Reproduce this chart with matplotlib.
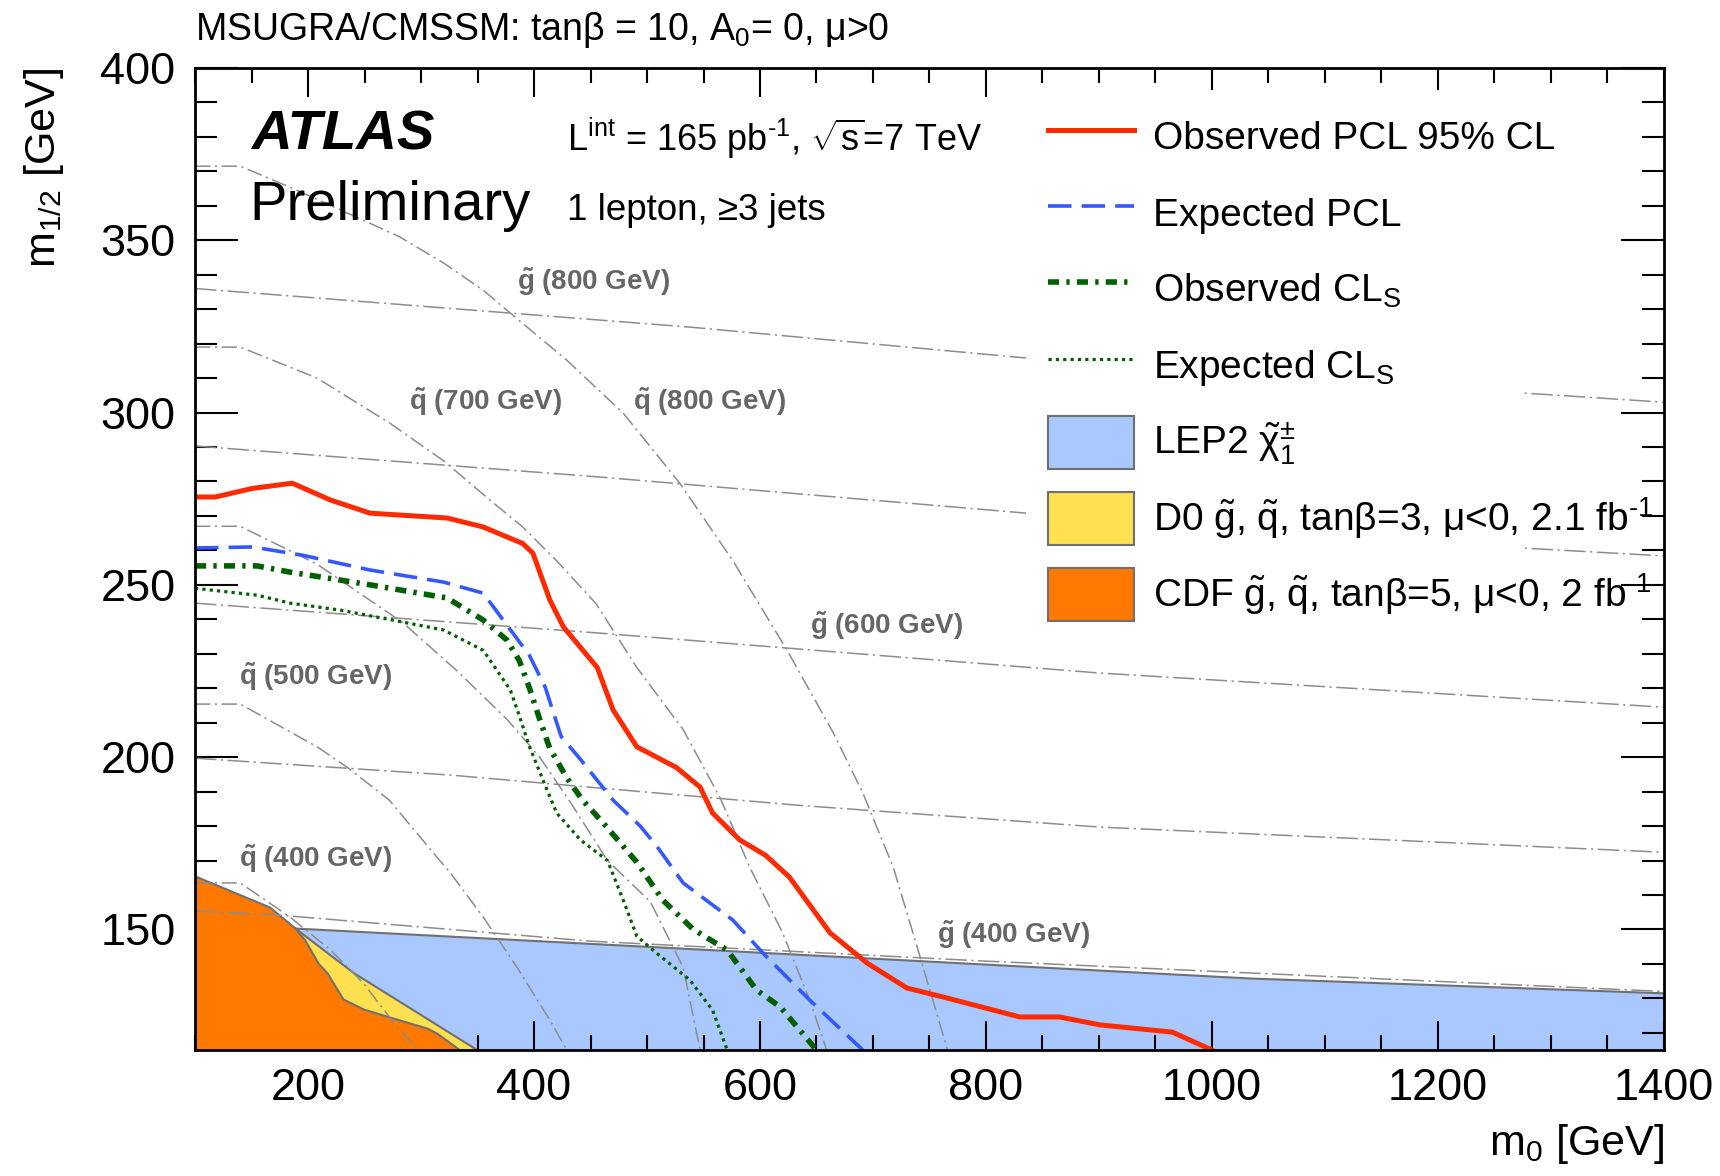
import matplotlib
matplotlib.use('Agg')
import matplotlib.pyplot as plt
from matplotlib.lines import Line2D
from matplotlib.patches import Patch, Rectangle
from matplotlib.ticker import MultipleLocator

plt.rcParams['font.family'] = ['Liberation Sans', 'DejaVu Sans']
plt.rcParams['mathtext.fontset'] = 'custom'
plt.rcParams['mathtext.rm'] = 'Liberation Sans'
plt.rcParams['mathtext.it'] = 'Liberation Sans:italic'
plt.rcParams['mathtext.bf'] = 'Liberation Sans:bold'
plt.rcParams['mathtext.sf'] = 'Liberation Sans'
plt.rcParams['mathtext.default'] = 'regular'

# ---------------- data ----------------
# Observed PCL 95% CL
obs_pcl_m0 = [100, 118, 151, 186, 220, 255, 323, 355, 390, 399, 414, 426, 456, 470, 491, 526, 547, 558,
              582, 605, 626, 662, 695, 730, 762, 830, 865, 901, 965, 1000]
obs_pcl_m12 = [275.5, 275.5, 278, 279.5, 274.6, 270.8, 269.4, 266.8, 262, 259.2, 245.6, 237.8, 226, 213.7,
               203, 197, 191.3, 183.8, 176, 171.5, 165.2, 149, 140.2, 133, 130.4, 124.6, 124.6, 122.3, 120.2, 115]
# Expected PCL
exp_pcl_m0 = [100, 151, 195, 255, 320, 355, 379, 396, 410, 424, 441, 470, 494, 509, 532, 576, 603, 644, 691]
exp_pcl_m12 = [260.7, 261, 258.6, 254.3, 250.8, 247.6, 237, 229.5, 220.2, 206, 199.4, 187.5, 180, 174,
               163.5, 152.7, 143, 129.5, 115]
# Observed CLs
obs_cls_m0 = [100, 155, 184, 255, 323, 355, 376, 387, 396, 405, 414, 429, 443, 461, 491, 514, 541, 571,
              597, 618, 650]
obs_cls_m12 = [255.5, 255.5, 253.7, 250, 246.2, 239.8, 234, 228, 220, 211, 202.5, 194, 187.5, 181, 169.5,
               158.5, 150, 144, 132.4, 127.5, 115]
# Expected CLs
exp_cls_m0 = [100, 155, 184, 228, 284, 320, 355, 367, 379, 387, 396, 408, 420, 441, 465, 479, 491, 509,
              538, 558, 571]
exp_cls_m12 = [249, 247, 244.7, 242.7, 239.2, 236.9, 231, 225.3, 219.5, 212, 203, 193.3, 183.8, 176, 170,
               158.5, 148, 143, 135.3, 126.6, 115]

# Excluded regions (upper boundaries)
lep_m0 = [188.5, 547, 1034, 1400]
lep_m12 = [150.4, 144.3, 135.9, 131.6]
d0_m0 = [188.5, 240, 350]
d0_m12 = [150.4, 137.5, 115]
cdf_m0 = [100, 166, 188.5, 197, 209, 217, 231, 249, 275, 305, 314, 334.5]
cdf_m12 = [165.5, 156.5, 150.4, 147, 140.2, 137.3, 129.8, 126.9, 124.3, 121.4, 119.9, 115]

# Squark iso-mass contours
sq400_m0 = [100, 140, 184, 220, 249, 272, 297]
sq400_m12 = [163.5, 163.5, 153.6, 144, 134.4, 124.6, 115]
sq500_m0 = [100, 140, 208, 235, 272, 314, 326, 355, 385, 414, 429]
sq500_m12 = [215.4, 215.4, 203, 197, 187.5, 171, 166.4, 153.6, 139, 123.7, 115]
sq600_m0 = [100, 140, 208, 284, 332, 376, 405, 432, 465, 503, 532, 547]
sq600_m12 = [267, 267, 256, 239, 225, 211, 200, 187, 170, 158, 139, 115]
sq700_m0 = [100, 140, 208, 272, 320, 361, 390, 420, 455, 491, 532, 565, 591, 620, 644, 659]
sq700_m12 = [319, 319, 310, 297, 286, 274.6, 266.8, 257, 244.5, 226, 208, 188, 168, 149, 129.5, 115]
sq800_m0 = [100, 140, 184, 243, 281, 320, 355, 376, 429, 479, 529, 576, 624, 665, 691, 718, 739, 766]
sq800_m12 = [371.5, 371.5, 365.4, 356.7, 351, 343.4, 335.5, 329.7, 315.2, 299.8, 279.5, 257, 231, 207,
             189.6, 168, 145, 115]
# Gluino iso-mass contours
gl400_m0 = [100, 173, 450, 800, 1400]
gl400_m12 = [155.3, 154.2, 146.6, 140.8, 132]
gl500_m0 = [100, 326, 635, 901, 1400]
gl500_m12 = [199.7, 194.8, 186, 179.7, 172.4]
gl600_m0 = [100, 458, 901, 1400]
gl600_m12 = [244.7, 236, 224.4, 214.5]
gl700_m0 = [100, 458, 836, 1274, 1400]
gl700_m12 = [290.3, 281.3, 270.8, 260.7, 258.4]
gl800_m0 = [100, 538, 830, 1274, 1400]
gl800_m12 = [336, 324.8, 316, 305.7, 303]

# Contour labels
contour_labels = [r"$\mathbf{\tilde{g}}$ (800 GeV)", r"$\mathbf{\tilde{q}}$ (700 GeV)",
                  r"$\mathbf{\tilde{q}}$ (800 GeV)", r"$\mathbf{\tilde{g}}$ (600 GeV)",
                  r"$\mathbf{\tilde{q}}$ (500 GeV)", r"$\mathbf{\tilde{q}}$ (400 GeV)",
                  r"$\mathbf{\tilde{g}}$ (400 GeV)"]
contour_label_m0 = [385, 289, 488, 644, 139, 139, 757]
contour_label_m12 = [338, 303, 303, 238.2, 223.3, 170.4, 148.4]

HY = "\u2010"
legend_labels = ["Observed PCL 95% CL", "Expected PCL",
                 r"Observed CL$_{\mathrm{S}}$", r"Expected CL$_{\mathrm{S}}$",
                 r"LEP2 $\tilde{\chi}_{1}^{\pm}$",
                 r"D0 $\tilde{g}$, $\tilde{q}$, tan$\beta$=3, $\mu$<0, 2.1 fb$^{" + HY + r"1}$",
                 r"CDF $\tilde{g}$, $\tilde{q}$, tan$\beta$=5, $\mu$<0, 2 fb$^{" + HY + r"1}$"]

# ---------------- styles ----------------
RED = '#ff2a00'
BLUE = '#3358ff'
GREEN = '#006000'
LEPC = '#a8c8ff'
D0C = '#ffe050'
CDFC = '#ff7800'
EDGE = '#707070'
GRAY = '#8c8c8c'

red_kw = dict(color=RED, lw=3.6, solid_joinstyle='round')
blue_kw = dict(color=BLUE, lw=2.6, ls=(0, (6.5, 2.8)))
gobs_kw = dict(color=GREEN, lw=4.0, ls=(0, (2.0, 1.3, 0.6, 1.3)))
gexp_kw = dict(color=GREEN, lw=2.3, ls=(0, (1.0, 1.3)))
sq_kw = dict(color=GRAY, lw=1.1, ls=(0, (10, 3, 1.4, 3)), zorder=4)
gl_kw = dict(color=GRAY, lw=1.1, ls=(0, (14, 3, 1.4, 3)), zorder=4)

fig = plt.figure(figsize=(17.2, 11.76), dpi=100)
ax = fig.add_axes([0.1134, 0.1071, 0.854, 0.8351])
ax.set_xlim(100, 1400)
ax.set_ylim(115, 400)

# filled regions
ax.fill_between(lep_m0, lep_m12, 0, facecolor=LEPC, edgecolor=EDGE, lw=1.5, zorder=1)
ax.fill_between(d0_m0, d0_m12, 0, facecolor=D0C, edgecolor=EDGE, lw=1.5, zorder=2)
ax.fill_between(cdf_m0, cdf_m12, 0, facecolor=CDFC, edgecolor=EDGE, lw=1.5, zorder=3)

# iso-mass contours
for xs, ys in [(sq400_m0, sq400_m12), (sq500_m0, sq500_m12), (sq600_m0, sq600_m12),
               (sq700_m0, sq700_m12), (sq800_m0, sq800_m12)]:
    ax.plot(xs, ys, **sq_kw)
for xs, ys in [(gl400_m0, gl400_m12), (gl500_m0, gl500_m12), (gl600_m0, gl600_m12),
               (gl700_m0, gl700_m12), (gl800_m0, gl800_m12)]:
    ax.plot(xs, ys, **gl_kw)

for lab, x, y in zip(contour_labels, contour_label_m0, contour_label_m12):
    ax.text(x, y, lab, color='#666666', fontsize=20, fontweight='bold', ha='left', va='center', zorder=7)

# white legend area
ax.add_patch(Rectangle((0.566, 0.4175), 0.337, 0.56, transform=ax.transAxes,
                       facecolor='white', edgecolor='none', zorder=5))

# limit curves
ax.plot(exp_cls_m0, exp_cls_m12, zorder=6, **gexp_kw)
ax.plot(obs_cls_m0, obs_cls_m12, zorder=6, **gobs_kw)
ax.plot(exp_pcl_m0, exp_pcl_m12, zorder=6, **blue_kw)
ax.plot(obs_pcl_m0, obs_pcl_m12, zorder=6, **red_kw)

# legend
handles = [Line2D([], [], **red_kw), Line2D([], [], **blue_kw), Line2D([], [], **gobs_kw),
           Line2D([], [], **gexp_kw),
           Patch(facecolor=LEPC, edgecolor=EDGE, lw=1.5),
           Patch(facecolor=D0C, edgecolor=EDGE, lw=1.5),
           Patch(facecolor=CDFC, edgecolor=EDGE, lw=1.5)]
leg = ax.legend(handles, legend_labels, loc='upper left', bbox_to_anchor=(0.5807, 0.957),
                frameon=False, fontsize=28, handlelength=2.2, handleheight=1.72,
                handletextpad=0.5, labelspacing=0.6, borderpad=0, borderaxespad=0)
leg.set_zorder(8)

# axes styling
ax.xaxis.set_major_locator(MultipleLocator(200))
ax.xaxis.set_minor_locator(MultipleLocator(50))
ax.yaxis.set_major_locator(MultipleLocator(50))
ax.yaxis.set_minor_locator(MultipleLocator(10))
ax.tick_params(which='both', direction='in', top=True, right=True, width=1.5, labelsize=32.5)
ax.tick_params(axis='x', which='major', length=21, pad=13)
ax.tick_params(axis='x', which='minor', length=10.5)
ax.tick_params(axis='y', which='major', length=31, pad=14)
ax.tick_params(axis='y', which='minor', length=15.5)
for s in ax.spines.values():
    s.set_linewidth(2)
    s.set_zorder(10)

# texts
ax.text(-0.103, 1.0, r"m$_{1/2}$ [GeV]", rotation=90, ha='center', va='top', fontsize=31,
        transform=ax.transAxes)
ax.text(1.0, -0.096, r"m$_{0}$ [GeV]", ha='right', va='center', fontsize=31, transform=ax.transAxes)
ax.text(0.0, 1.0285, r"MSUGRA/CMSSM: tanβ = 10, A$_{0}$= 0, μ>0", ha='left', va='baseline',
        fontsize=27, transform=ax.transAxes)
ax.text(0.0385, 0.931, "ATLAS", fontsize=40.5, fontweight='bold', fontstyle='italic', ha='left',
        va='center', transform=ax.transAxes, zorder=9)
ax.text(0.0372, 0.859, "Preliminary", fontsize=40.5, ha='left', va='center', transform=ax.transAxes, zorder=9)
ax.text(0.253, 0.928, r"L$^{\mathrm{int}}$ = 165 pb$^{" + HY + r"1}$, $\sqrt{\mathrm{s}}$=7 TeV", fontsize=26,
        ha='left', va='center', transform=ax.transAxes, zorder=9)
ax.text(0.253, 0.855, "1 lepton, ≥3 jets", fontsize=26.5, ha='left', va='center',
        transform=ax.transAxes, zorder=9)

fig.savefig('out.png', dpi=100)
